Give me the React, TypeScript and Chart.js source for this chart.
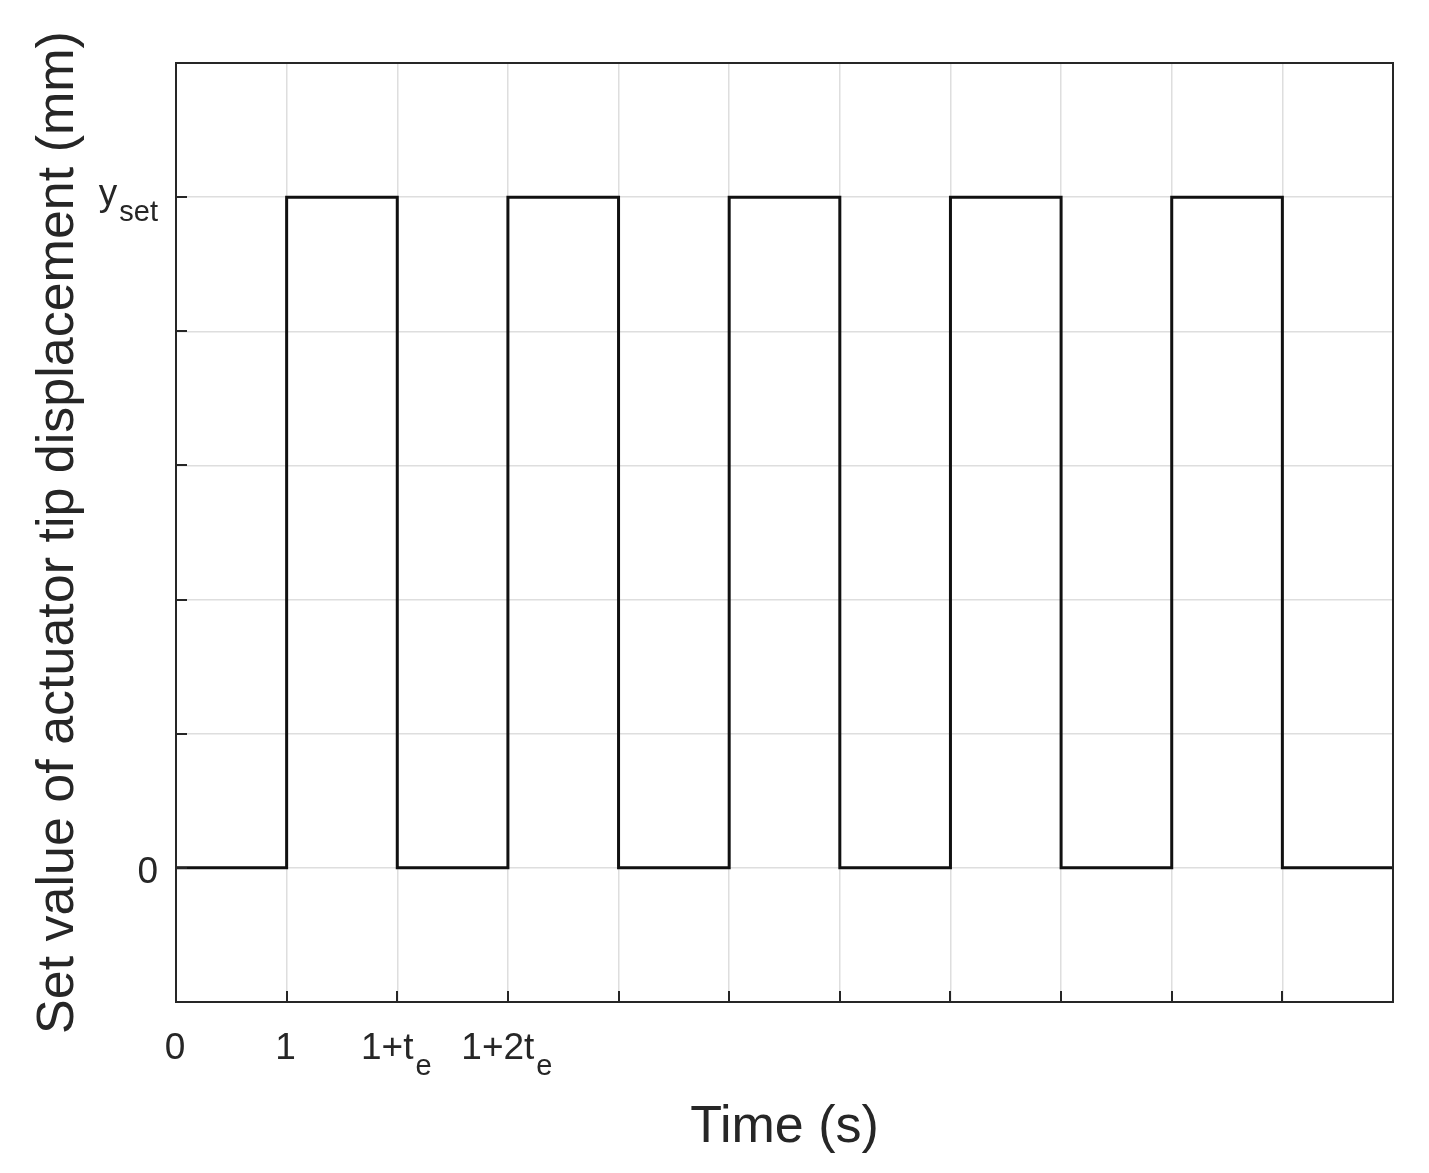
import React, { useEffect, useRef } from 'react';
import { Chart, registerables } from 'chart.js';

Chart.register(...registerables);

// ---- data ----
const timeValues = [0, 1, 2, 3, 4, 5, 6, 7, 8, 9, 10, 11];
const setpointValues = [0, 5, 0, 5, 0, 5, 0, 5, 0, 5, 0, 0];
const xTickMain = ['0', '1', '1+t', '1+2t', '', '', '', '', '', '', '', ''];
const xTickSub = ['', '', 'e', 'e', '', '', '', '', '', '', '', ''];
const yTickValues = [0, 5];
const yTickMain = ['0', 'y'];
const yTickSub = ['', 'set'];
const xMin = 0;
const xMax = 11;
const yMin = -1;
const yMax = 6;

const FONT = '"Liberation Sans", Arial, Helvetica, sans-serif';
const TEXT = '#262626';

function drawLabel(ctx: CanvasRenderingContext2D, main: string, sub: string, x: number, baseline: number, align: 'center' | 'right') {
  const mainFont = `37px ${FONT}`;
  const subFont = `29px ${FONT}`;
  const gap = sub ? 2 : 0;
  ctx.font = mainFont;
  const wm = ctx.measureText(main).width;
  ctx.font = subFont;
  const ws = sub ? ctx.measureText(sub).width : 0;
  const total = wm + gap + ws;
  const start = align === 'center' ? x - total / 2 : x - total;
  ctx.textAlign = 'left';
  ctx.textBaseline = 'alphabetic';
  ctx.fillStyle = TEXT;
  ctx.font = mainFont;
  ctx.fillText(main, start, baseline);
  if (sub) {
    ctx.font = subFont;
    ctx.fillText(sub, start + wm + gap, baseline + 16);
  }
}

const labelPlugin = {
  id: 'customLabels',
  afterDraw(chart: any) {
    const ctx: CanvasRenderingContext2D = chart.ctx;
    const { left, right, top, bottom } = chart.chartArea;
    const xs = chart.scales.x;
    const ys = chart.scales.y;
    ctx.save();
    // inward tick marks
    ctx.strokeStyle = TEXT;
    ctx.lineWidth = 2;
    ctx.beginPath();
    xs.ticks.forEach((t: any) => {
      const px = Math.round(xs.getPixelForValue(t.value));
      ctx.moveTo(px, bottom);
      ctx.lineTo(px, bottom - 11);
    });
    ys.ticks.forEach((t: any) => {
      const py = Math.round(ys.getPixelForValue(t.value));
      ctx.moveTo(left, py);
      ctx.lineTo(left + 11, py);
    });
    ctx.stroke();
    // axes box
    ctx.lineWidth = 2;
    ctx.strokeRect(left, top, right - left, bottom - top);
    // x tick labels
    xs.ticks.forEach((t: any) => {
      const idx = timeValues.indexOf(t.value);
      const main = xTickMain[idx] || '';
      const sub = xTickSub[idx] || '';
      if (!main) return;
      drawLabel(ctx, main, sub, xs.getPixelForValue(t.value) - 1, bottom + 57, 'center');
    });
    // y tick labels
    yTickValues.forEach((v, i) => {
      const py = ys.getPixelForValue(v);
      const sub = yTickSub[i];
      drawLabel(ctx, yTickMain[i], sub, left - 18, py + (sub ? 8 : 15), 'right');
    });
    ctx.restore();
  },
};

export default function App() {
  const ref = useRef<HTMLCanvasElement | null>(null);
  useEffect(() => {
    if (!ref.current) return;
    const chart = new Chart(ref.current, {
      type: 'line',
      data: {
        datasets: [
          {
            data: timeValues.map((t, i) => ({ x: t, y: setpointValues[i] })),
            borderColor: '#111111',
            borderWidth: 3,
            stepped: 'before',
            pointRadius: 0,
            fill: false,
          },
        ],
      },
      options: {
        animation: false,
        responsive: false,
        devicePixelRatio: 1,
        layout: { padding: { top: 63, right: 36, left: 0, bottom: 0 } },
        plugins: { legend: { display: false }, tooltip: { enabled: false } },
        scales: {
          x: {
            type: 'linear',
            min: xMin,
            max: xMax,
            ticks: { display: false, stepSize: 1 },
            grid: { color: '#dedede', lineWidth: 1.5, drawTicks: false },
            border: { display: false },
            title: {
              display: true,
              text: 'Time (s)',
              color: TEXT,
              font: { family: FONT, size: 52 },
              padding: { top: 0, bottom: 14 },
            },
            afterFit: (s: any) => {
              s.height = 171;
            },
          },
          y: {
            type: 'linear',
            min: yMin,
            max: yMax,
            ticks: { display: false, stepSize: 1 },
            grid: { color: '#dedede', lineWidth: 1.5, drawTicks: false },
            border: { display: false },
            title: {
              display: true,
              text: 'Set value of actuator tip displacement (mm)',
              color: TEXT,
              font: { family: FONT, size: 52 },
              padding: { top: 27, bottom: 0 },
            },
            afterFit: (s: any) => {
              s.width = 176;
            },
          },
        },
      },
      plugins: [labelPlugin],
    } as any);
    return () => chart.destroy();
  }, []);
  return (
    <div style={{ position: 'absolute', left: 0, top: 0, width: 1429, height: 1173, background: '#fff' }}>
      <canvas ref={ref} width={1429} height={1173} style={{ display: 'block' }} />
    </div>
  );
}
